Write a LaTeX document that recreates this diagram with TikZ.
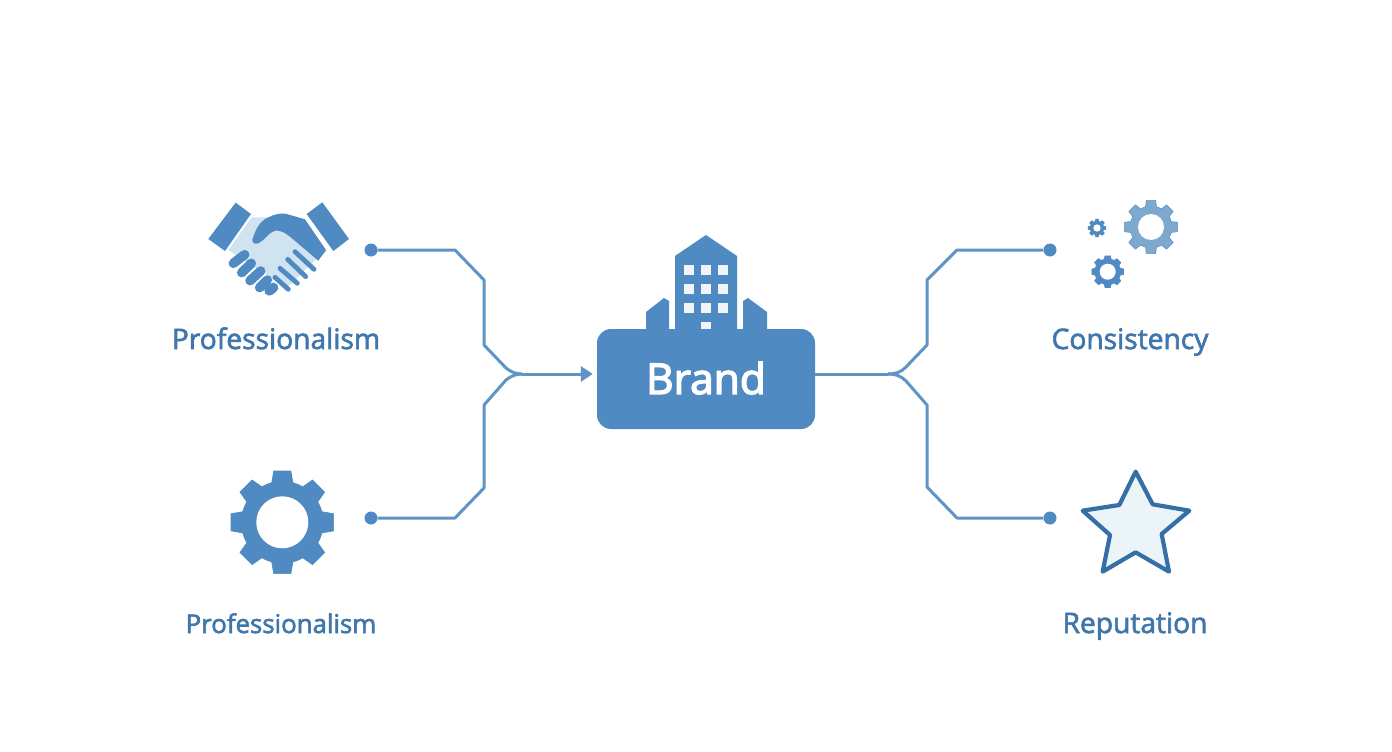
\documentclass[tikz,border=0pt]{standalone}
\usepackage{fontspec}
\setmainfont{Open Sans}
\newfontfamily\labelfont[FakeBold=2.2]{Open Sans}
\newfontfamily\brandfont[FakeBold=3.2]{Open Sans}
\usetikzlibrary{arrows.meta}
\definecolor{bluemain}{HTML}{4F8AC2}
\definecolor{blueline}{HTML}{5F95C6}
\definecolor{bluetext}{HTML}{3F76AB}
\definecolor{bluelight}{HTML}{CFE3F1}
\definecolor{bluestar}{HTML}{366FA5}
\definecolor{starfill}{HTML}{EBF4F9}
\definecolor{gearlight}{HTML}{7DA9CF}
\definecolor{windowc}{HTML}{F1F5F8}
\tikzset{
  wire/.style={draw=blueline,line width=3pt,line join=round},
  dotnode/.style={circle,fill=bluemain,inner sep=0pt,minimum size=13pt},
  brandbox/.style={rectangle,rounded corners=14pt,fill=bluemain,minimum width=218pt,minimum height=100pt,inner sep=0pt},
  brandtext/.style={text=white,inner sep=0pt,anchor=base,font=\brandfont\fontsize{42.5}{50}\selectfont},
  label/.style={text=bluetext,inner sep=0pt,anchor=base,font=\labelfont\fontsize{28.2}{32}\selectfont},
  labelsmall/.style={text=bluetext,inner sep=0pt,anchor=base,font=\labelfont\fontsize{25.8}{30}\selectfont},
  finger/.style={line cap=round,draw=bluemain},
  window/.style={fill=windowc}
}
% #1 cx, #2 cy, #3 outer, #4 root, #5 hole, #6 half tip angle, #7 half base angle, #8 fill, #9 edge
\newcommand{\gearshape}[9]{%
  \begin{scope}[shift={(#1,#2)}]
    \filldraw[#8,draw=#9,line width=0.6pt,line join=round]
      ({-#7}:#4) -- ({-#6}:#3) -- ({#6}:#3) -- ({#7}:#4)
      arc[start angle=#7,end angle={45-#7},radius=#4]
      -- ({45-#6}:#3) -- ({45+#6}:#3) -- ({45+#7}:#4)
      arc[start angle={45+#7},end angle={90-#7},radius=#4]
      -- ({90-#6}:#3) -- ({90+#6}:#3) -- ({90+#7}:#4)
      arc[start angle={90+#7},end angle={135-#7},radius=#4]
      -- ({135-#6}:#3) -- ({135+#6}:#3) -- ({135+#7}:#4)
      arc[start angle={135+#7},end angle={180-#7},radius=#4]
      -- ({180-#6}:#3) -- ({180+#6}:#3) -- ({180+#7}:#4)
      arc[start angle={180+#7},end angle={225-#7},radius=#4]
      -- ({225-#6}:#3) -- ({225+#6}:#3) -- ({225+#7}:#4)
      arc[start angle={225+#7},end angle={270-#7},radius=#4]
      -- ({270-#6}:#3) -- ({270+#6}:#3) -- ({270+#7}:#4)
      arc[start angle={270+#7},end angle={315-#7},radius=#4]
      -- ({315-#6}:#3) -- ({315+#6}:#3) -- ({315+#7}:#4)
      arc[start angle={315+#7},end angle={360-#7},radius=#4]
      -- cycle;
    \fill[white] (0,0) circle[radius=#5];
  \end{scope}}
\begin{document}
\begin{tikzpicture}[x=1pt,y=-1pt]
\useasboundingbox (0,0) rectangle (1392,752);
\fill[white] (0,0) rectangle (1392,752);

% building
\fill[bluemain] (675,256) -- (706,235) -- (737,256) -- (737,331) -- (675,331) -- cycle;
\fill[bluemain] (646,312) -- (664,298) -- (669,301) -- (669,331) -- (646,331) -- cycle;
\fill[bluemain] (743,301) -- (748,298) -- (767,312) -- (767,331) -- (743,331) -- cycle;
\foreach \wx in {689,706,723}{\foreach \wy in {270,289,308}{
  \fill[window] (\wx-5,\wy-5) rectangle (\wx+5,\wy+5);}}
\fill[window] (701,322) rectangle (711,330);

% centre box
\node[brandbox] (brand) at (706,379) {};
\node[brandtext] (brandlabel) at (706,394) {Brand};

% labels
\node[label] (l1) at (276,349) {Professionalism};
\node[labelsmall] (l2) at (281,633) {Professionalism};
\node[label] (l3) at (1130,349) {Consistency};
\node[label] (l4) at (1135,633) {Reputation};

% dots and junctions
\node[dotnode] (d1) at (371,250) {};
\node[dotnode] (d2) at (371,518) {};
\node[dotnode] (d3) at (1050,250) {};
\node[dotnode] (d4) at (1050,518) {};
\coordinate (jl) at (522,374);
\coordinate (jr) at (888,374);

% connectors
\draw[wire] (d1) -- (455,250) -- (484,280) -- (484,345) -- (506,368) .. controls (511,372) and (516,374) .. (jl);
\draw[wire] (d2) -- (455,518) -- (484,488) -- (484,405) -- (506,380) .. controls (511,376) and (516,374) .. (jl);
\draw[wire,-{Triangle[length=12pt,width=15pt]},shorten >=4pt] (jl) -- (brand.west |- jl);
\draw[wire] (brand.east |- jr) -- (jr);
\draw[wire] (jr) .. controls (896,374) and (901,372) .. (906,367) -- (927,345) -- (927,280) -- (957,250) -- (d3);
\draw[wire] (jr) .. controls (896,374) and (901,376) .. (906,381) -- (927,405) -- (927,487) -- (957,518) -- (d4);

% handshake
\begin{scope}[shift={(190,190)},x=0.3333pt,y=-0.3333pt]
  \fill[bluelight] (185,82) -- (225,82) -- (345,90) -- (410,185) -- (370,215) -- (290,295) -- (240,262) -- (115,180) -- cycle;
  \fill[bluemain] (137,38) -- (183,72) -- (105,183) -- (55,147) -- cycle;
  \fill[bluemain] (397,37) -- (477,147) -- (430,183) -- (350,72) -- cycle;
  \fill[bluemain] (187,150) .. controls (195,125) and (205,95) .. (235,82)
     .. controls (255,72) and (275,68) .. (290,72) -- (345,88) -- (408,180) -- (385,212)
     -- (300,140) .. controls (285,128) and (270,120) .. (255,122)
     .. controls (235,128) and (225,150) .. (205,160) .. controls (195,163) and (187,160) .. (187,150) -- cycle;
  \draw[finger,line width=9.5pt] (130,220) -- (164,194);
  \draw[finger,line width=9.5pt] (155,248) -- (184,220);
  \draw[finger,line width=9.5pt] (180,272) -- (212,243);
  \draw[finger,line width=9.5pt] (209,293) -- (232,270);
  \draw[finger,line width=10pt] (238,302) -- (250,293);
  \draw[finger,line width=4.8pt] (255,262) -- (295,298);
  \draw[finger,line width=4.8pt] (270,235) -- (322,280);
  \draw[finger,line width=4.8pt] (293,208) -- (347,260);
  \draw[finger,line width=4.8pt] (315,185) -- (372,238);
\end{scope}

% gears
\gearshape{282.3}{522.3}{52}{41}{26}{9.5}{15}{bluemain}{bluemain}
\gearshape{1151}{227}{27}{21}{13}{10}{15}{gearlight}{blueline}
\gearshape{1097}{228}{9}{6.8}{3.7}{10}{15}{bluemain}{bluemain}
\gearshape{1107.7}{271.7}{16}{13}{8}{10}{15}{bluemain}{bluemain}

% star
\begin{scope}[shift={(1070,460)},x=0.3333pt,y=-0.3333pt]
  \draw[fill=starfill,draw=bluestar,line width=4.2pt,line join=round]
    (197,35) -- (248,133) -- (358,152) -- (275,222) -- (297,335)
    -- (197,277) -- (98,335) -- (120,225) -- (38,152) -- (148,135) -- cycle;
\end{scope}
\end{tikzpicture}
\end{document}
